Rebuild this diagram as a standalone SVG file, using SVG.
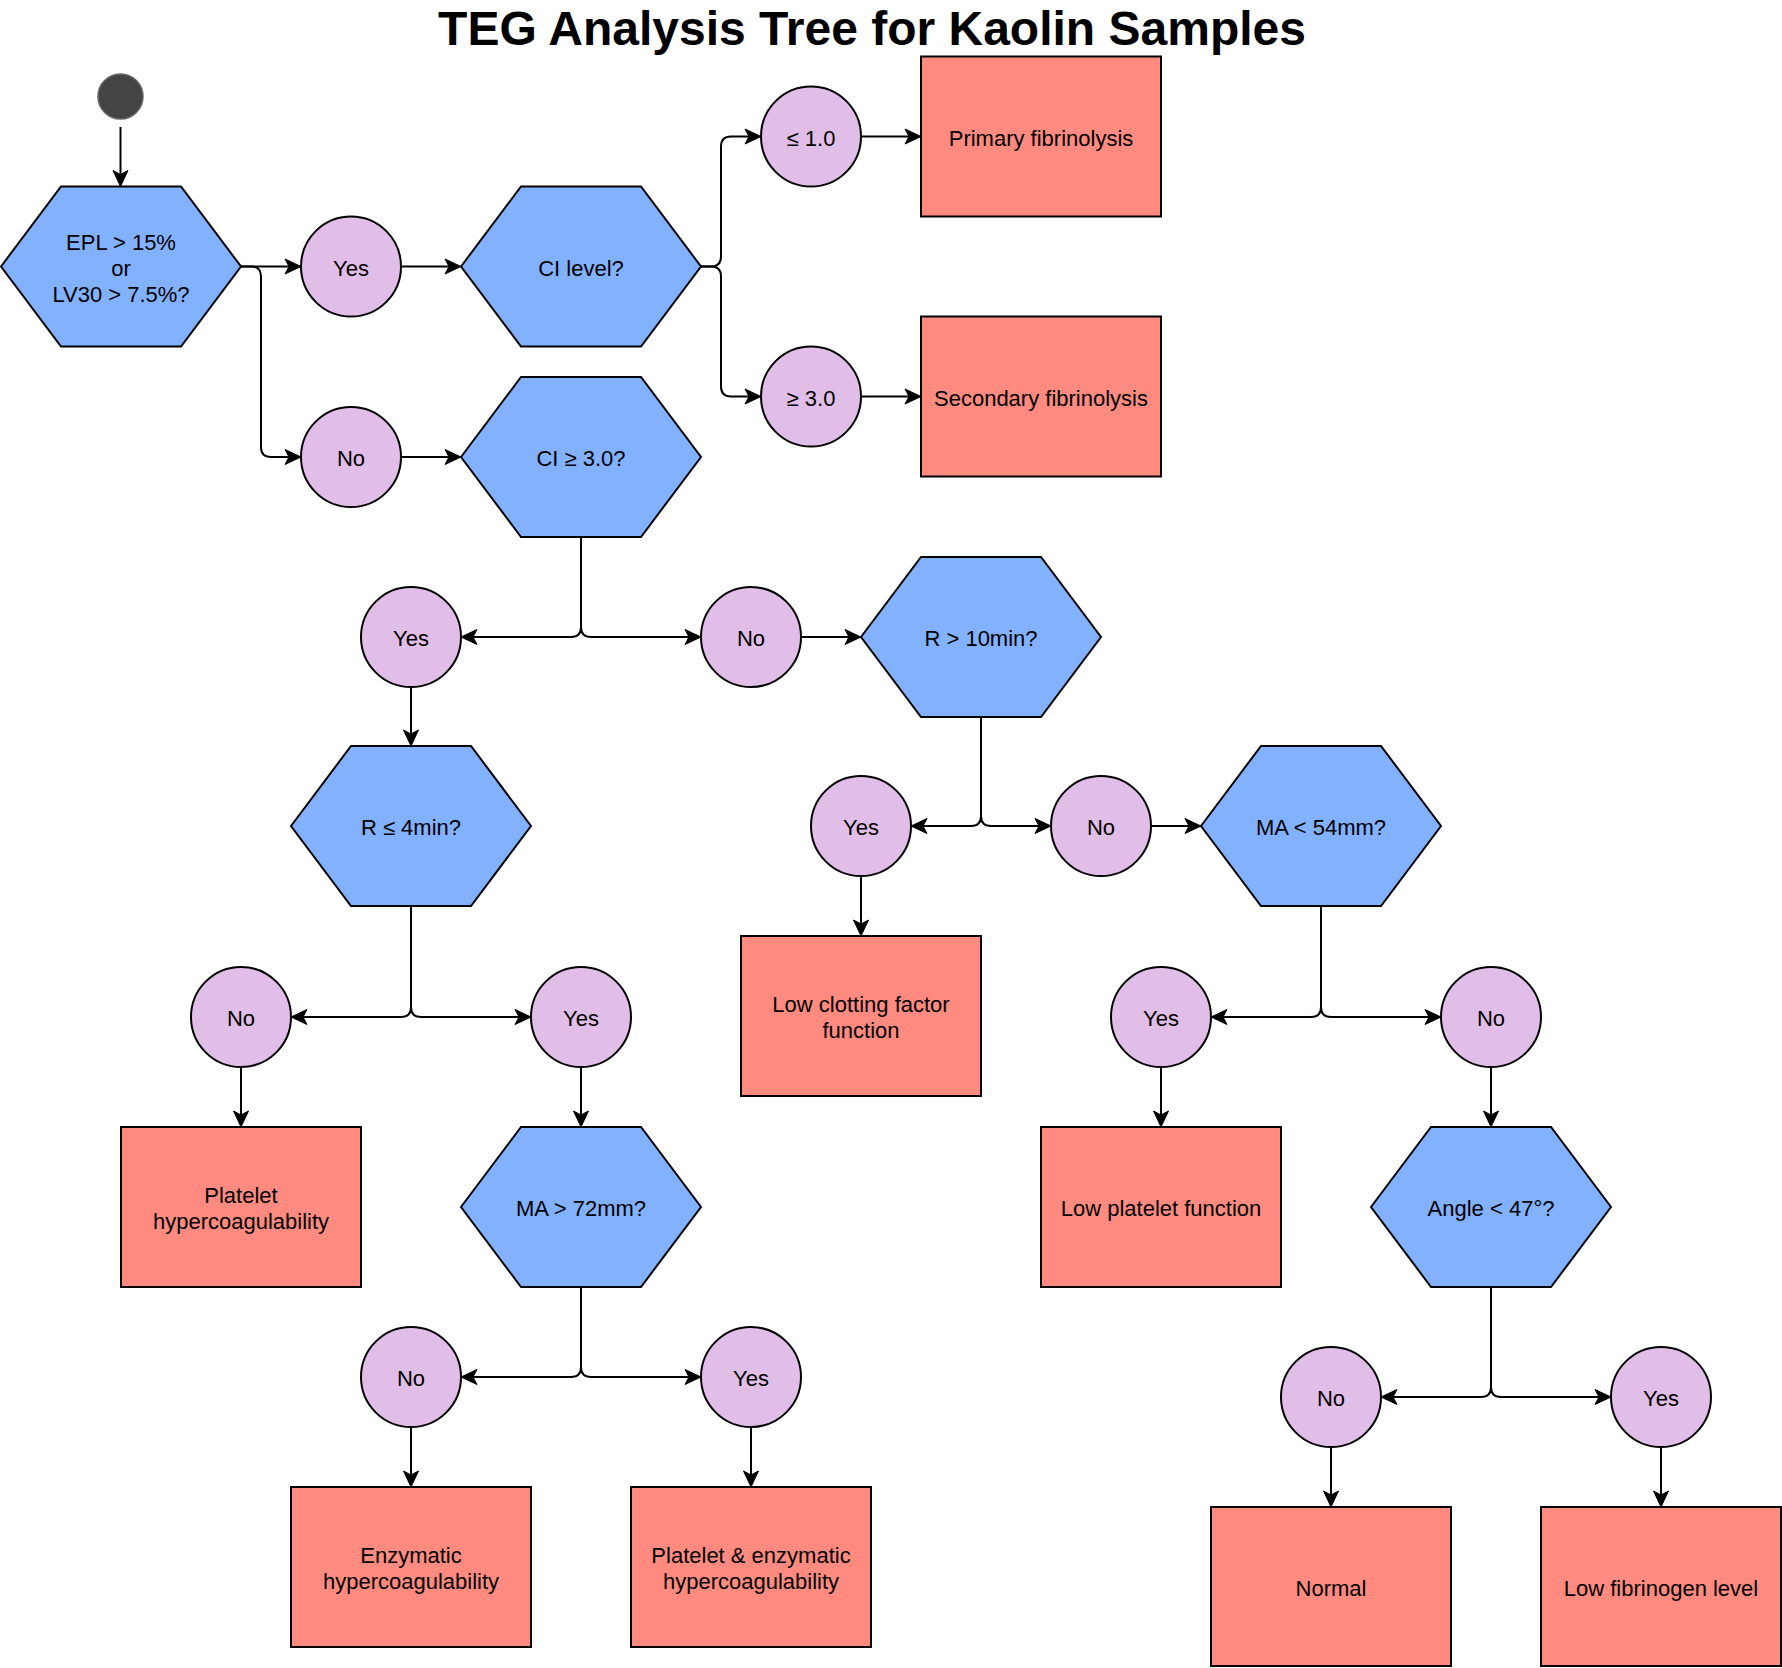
<svg xmlns="http://www.w3.org/2000/svg" width="1782" height="1668" viewBox="0 0 1782 1668">
<style>
.hex{fill:#82B1FF;stroke:#000;stroke-width:2}
.cir{fill:#E1BEE7;stroke:#000;stroke-width:2}
.box{fill:#FF8A80;stroke:#000;stroke-width:2}
.t{font-family:"Liberation Sans",Arial,Helvetica,sans-serif;font-size:22px;fill:#000;text-anchor:middle}
.title{font-family:"Liberation Sans",Arial,Helvetica,sans-serif;font-size:48px;font-weight:bold;fill:#000;text-anchor:middle}
.ln{fill:none;stroke:#000;stroke-width:2}
</style>
<defs>
<marker id="arr" markerUnits="userSpaceOnUse" orient="auto" overflow="visible" refX="0" refY="0" markerWidth="1" markerHeight="1">
<path d="M-4,-7.5 L12,0 L-4,7.5 L0,0 Z" fill="#000" stroke="#000" stroke-width="1"/>
</marker>
</defs>
<rect width="1782" height="1668" fill="#fff"/>
<text class="title" x="872" y="45">TEG Analysis Tree for Kaolin Samples</text>

<g id="connectors" class="ln">
<path class="ln" marker-end="url(#arr)" d="M120.5,127 V174.5"/>
<path class="ln" marker-end="url(#arr)" d="M241,266.5 H289"/>
<path class="ln" marker-end="url(#arr)" d="M241,266.5 H251 Q261,266.5 261,276.5 V447 Q261,457 271,457 H289"/>
<path class="ln" marker-end="url(#arr)" d="M401,266.5 H449"/>
<path class="ln" marker-end="url(#arr)" d="M401,457 H449"/>
<path class="ln" marker-end="url(#arr)" d="M701,266.5 H711 Q721,266.5 721,256.5 V146.5 Q721,136.5 731,136.5 H749"/>
<path class="ln" marker-end="url(#arr)" d="M701,266.5 H711 Q721,266.5 721,276.5 V386.5 Q721,396.5 731,396.5 H749"/>
<path class="ln" marker-end="url(#arr)" d="M861,136.5 H909"/>
<path class="ln" marker-end="url(#arr)" d="M861,396.5 H909"/>
<path class="ln" marker-end="url(#arr)" d="M581,537 V627 Q581,637 571,637 H473"/>
<path class="ln" marker-end="url(#arr)" d="M581,537 V627 Q581,637 591,637 H689"/>
<path class="ln" marker-end="url(#arr)" d="M801,637 H849"/>
<path class="ln" marker-end="url(#arr)" d="M411,687 V734"/>
<path class="ln" marker-end="url(#arr)" d="M981,717 V816 Q981,826 971,826 H923"/>
<path class="ln" marker-end="url(#arr)" d="M981,717 V816 Q981,826 991,826 H1039"/>
<path class="ln" marker-end="url(#arr)" d="M1151,826 H1189"/>
<path class="ln" marker-end="url(#arr)" d="M861,876 V924"/>
<path class="ln" marker-end="url(#arr)" d="M411,906 V1007 Q411,1017 401,1017 H303"/>
<path class="ln" marker-end="url(#arr)" d="M411,906 V1007 Q411,1017 421,1017 H519"/>
<path class="ln" marker-end="url(#arr)" d="M241,1067 V1115"/>
<path class="ln" marker-end="url(#arr)" d="M581,1067 V1115"/>
<path class="ln" marker-end="url(#arr)" d="M1321,906 V1007 Q1321,1017 1311,1017 H1223"/>
<path class="ln" marker-end="url(#arr)" d="M1321,906 V1007 Q1321,1017 1331,1017 H1429"/>
<path class="ln" marker-end="url(#arr)" d="M1161,1067 V1115"/>
<path class="ln" marker-end="url(#arr)" d="M1491,1067 V1115"/>
<path class="ln" marker-end="url(#arr)" d="M581,1287 V1367 Q581,1377 571,1377 H473"/>
<path class="ln" marker-end="url(#arr)" d="M581,1287 V1367 Q581,1377 591,1377 H689"/>
<path class="ln" marker-end="url(#arr)" d="M411,1427 V1475"/>
<path class="ln" marker-end="url(#arr)" d="M751,1427 V1475"/>
<path class="ln" marker-end="url(#arr)" d="M1491,1287 V1387 Q1491,1397 1481,1397 H1393"/>
<path class="ln" marker-end="url(#arr)" d="M1491,1287 V1387 Q1491,1397 1501,1397 H1599"/>
<path class="ln" marker-end="url(#arr)" d="M1331,1447 V1495"/>
<path class="ln" marker-end="url(#arr)" d="M1661,1447 V1495"/>
</g>

<g id="start"><circle cx="120.5" cy="96.5" r="22.5" fill="#444" stroke="#666" stroke-width="1.5"/></g>

<g id="h-epl"><polygon class="hex" points="1,266.5 61,186.5 181,186.5 241,266.5 181,346.5 61,346.5"/>
<text class="t" x="121" y="249.5">EPL &gt; 15%</text><text class="t" x="121" y="275.5">or</text><text class="t" x="121" y="301.5">LV30 &gt; 7.5%?</text></g>

<g id="c-yes1"><circle class="cir" cx="351" cy="266.5" r="50"/><text class="t" x="351" y="275.5">Yes</text></g>
<g id="c-no1"><circle class="cir" cx="351" cy="457" r="50"/><text class="t" x="351" y="466">No</text></g>

<g id="h-cilevel"><polygon class="hex" points="461,266.5 521,186.5 641,186.5 701,266.5 641,346.5 521,346.5"/><text class="t" x="581" y="275.5">CI level?</text></g>
<g id="h-ci3"><polygon class="hex" points="461,457 521,377 641,377 701,457 641,537 521,537"/><text class="t" x="581" y="466">CI ≥ 3.0?</text></g>

<g id="c-le1"><circle class="cir" cx="811" cy="136.5" r="50"/><text class="t" x="811" y="145.5">≤ 1.0</text></g>
<g id="c-ge3"><circle class="cir" cx="811" cy="396.5" r="50"/><text class="t" x="811" y="405.5">≥ 3.0</text></g>

<g id="r-primary"><rect class="box" x="921" y="56.5" width="240" height="160"/><text class="t" x="1041" y="145.5">Primary fibrinolysis</text></g>
<g id="r-secondary"><rect class="box" x="921" y="316.5" width="240" height="160"/><text class="t" x="1041" y="405.5">Secondary fibrinolysis</text></g>

<g id="c-yes2"><circle class="cir" cx="411" cy="637" r="50"/><text class="t" x="411" y="646">Yes</text></g>
<g id="c-no2"><circle class="cir" cx="751" cy="637" r="50"/><text class="t" x="751" y="646">No</text></g>

<g id="h-r10"><polygon class="hex" points="861,637 921,557 1041,557 1101,637 1041,717 921,717"/><text class="t" x="981" y="646">R &gt; 10min?</text></g>

<g id="h-r4"><polygon class="hex" points="291,826 351,746 471,746 531,826 471,906 351,906"/><text class="t" x="411" y="835">R ≤ 4min?</text></g>

<g id="c-yes3"><circle class="cir" cx="861" cy="826" r="50"/><text class="t" x="861" y="835">Yes</text></g>
<g id="c-no3"><circle class="cir" cx="1101" cy="826" r="50"/><text class="t" x="1101" y="835">No</text></g>

<g id="h-ma54"><polygon class="hex" points="1201,826 1261,746 1381,746 1441,826 1381,906 1261,906"/><text class="t" x="1321" y="835">MA &lt; 54mm?</text></g>

<g id="r-lowclot"><rect class="box" x="741" y="936" width="240" height="160"/><text class="t" x="861" y="1012">Low clotting factor</text><text class="t" x="861" y="1038">function</text></g>

<g id="c-no4"><circle class="cir" cx="241" cy="1017" r="50"/><text class="t" x="241" y="1026">No</text></g>
<g id="c-yes4"><circle class="cir" cx="581" cy="1017" r="50"/><text class="t" x="581" y="1026">Yes</text></g>
<g id="c-yes5"><circle class="cir" cx="1161" cy="1017" r="50"/><text class="t" x="1161" y="1026">Yes</text></g>
<g id="c-no5"><circle class="cir" cx="1491" cy="1017" r="50"/><text class="t" x="1491" y="1026">No</text></g>

<g id="r-plathyper"><rect class="box" x="121" y="1127" width="240" height="160"/><text class="t" x="241" y="1203">Platelet</text><text class="t" x="241" y="1229">hypercoagulability</text></g>
<g id="h-ma72"><polygon class="hex" points="461,1207 521,1127 641,1127 701,1207 641,1287 521,1287"/><text class="t" x="581" y="1216">MA &gt; 72mm?</text></g>
<g id="r-lowplat"><rect class="box" x="1041" y="1127" width="240" height="160"/><text class="t" x="1161" y="1216">Low platelet function</text></g>
<g id="h-angle"><polygon class="hex" points="1371,1207 1431,1127 1551,1127 1611,1207 1551,1287 1431,1287"/><text class="t" x="1491" y="1216">Angle &lt; 47°?</text></g>

<g id="c-no6"><circle class="cir" cx="411" cy="1377" r="50"/><text class="t" x="411" y="1386">No</text></g>
<g id="c-yes6"><circle class="cir" cx="751" cy="1377" r="50"/><text class="t" x="751" y="1386">Yes</text></g>
<g id="c-no7"><circle class="cir" cx="1331" cy="1397" r="50"/><text class="t" x="1331" y="1406">No</text></g>
<g id="c-yes7"><circle class="cir" cx="1661" cy="1397" r="50"/><text class="t" x="1661" y="1406">Yes</text></g>

<g id="r-enz"><rect class="box" x="291" y="1487" width="240" height="160"/><text class="t" x="411" y="1563">Enzymatic</text><text class="t" x="411" y="1589">hypercoagulability</text></g>
<g id="r-platenz"><rect class="box" x="631" y="1487" width="240" height="160"/><text class="t" x="751" y="1563">Platelet &amp; enzymatic</text><text class="t" x="751" y="1589">hypercoagulability</text></g>
<g id="r-normal"><rect class="box" x="1211" y="1507" width="240" height="159"/><text class="t" x="1331" y="1596">Normal</text></g>
<g id="r-lowfib"><rect class="box" x="1541" y="1507" width="240" height="159"/><text class="t" x="1661" y="1596">Low fibrinogen level</text></g>
</svg>
